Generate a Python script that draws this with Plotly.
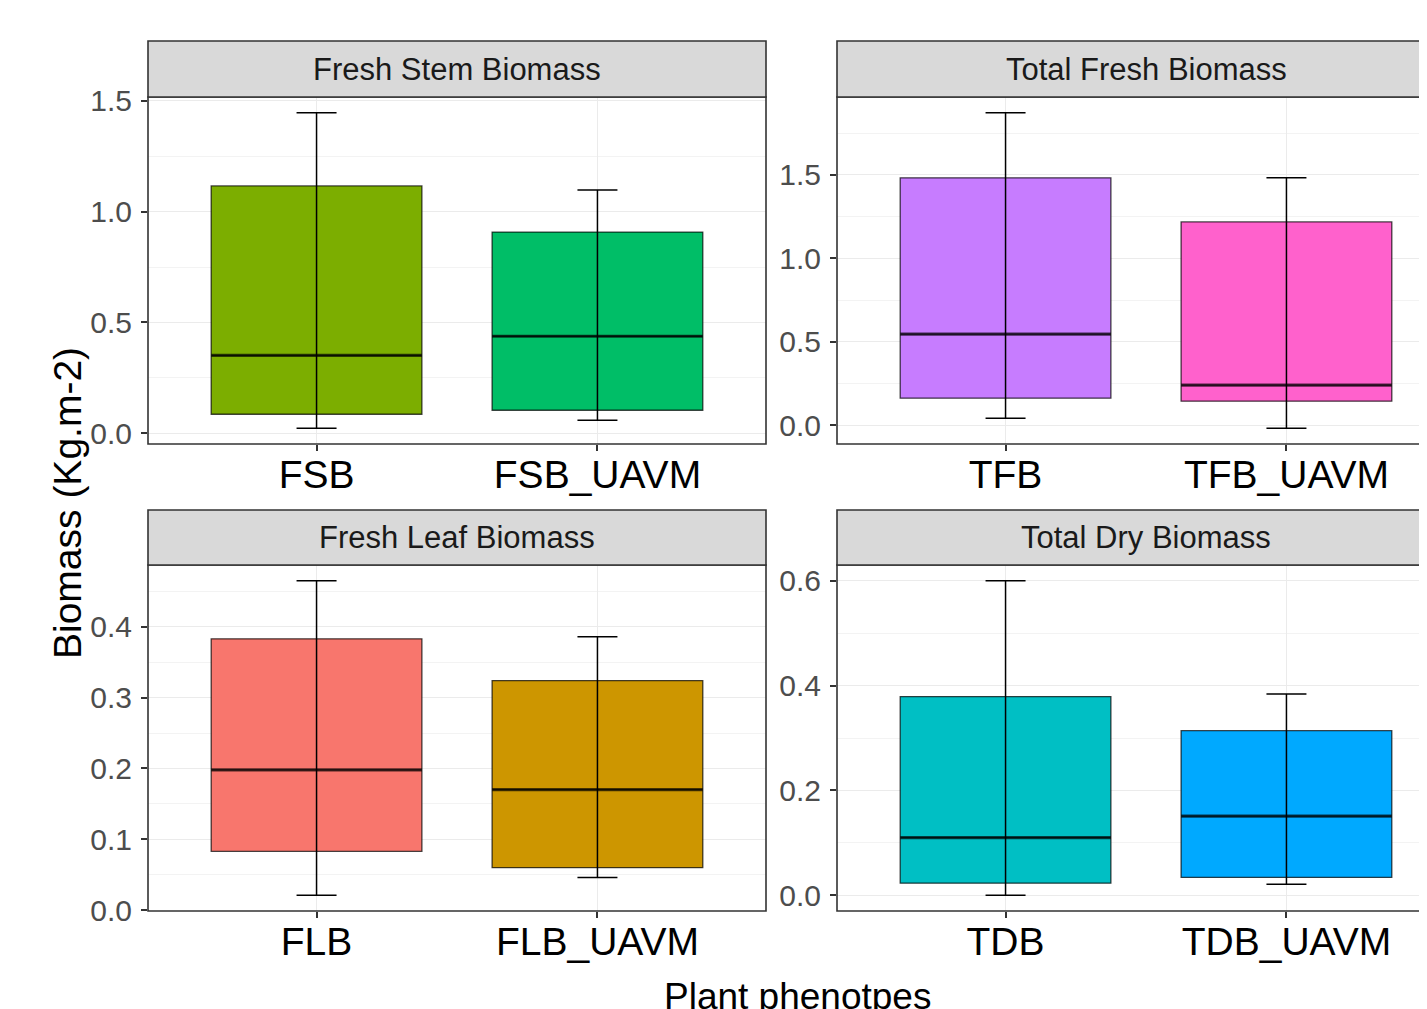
import plotly.graph_objects as go

# ---------------- data ----------------
panel_titles = ["Fresh Stem Biomass", "Total Fresh Biomass", "Fresh Leaf Biomass", "Total Dry Biomass"]
panel_categories = [["FSB", "FSB_UAVM"], ["TFB", "TFB_UAVM"], ["FLB", "FLB_UAVM"], ["TDB", "TDB_UAVM"]]

whisker_low = {"FSB": 0.023, "FSB_UAVM": 0.059, "TFB": 0.042, "TFB_UAVM": -0.018,
               "FLB": 0.021, "FLB_UAVM": 0.046, "TDB": 0.000, "TDB_UAVM": 0.021}
q1_vals = {"FSB": 0.086, "FSB_UAVM": 0.104, "TFB": 0.162, "TFB_UAVM": 0.144,
           "FLB": 0.083, "FLB_UAVM": 0.060, "TDB": 0.023, "TDB_UAVM": 0.034}
median_vals = {"FSB": 0.352, "FSB_UAVM": 0.438, "TFB": 0.546, "TFB_UAVM": 0.240,
               "FLB": 0.198, "FLB_UAVM": 0.170, "TDB": 0.110, "TDB_UAVM": 0.151}
q3_vals = {"FSB": 1.116, "FSB_UAVM": 0.908, "TFB": 1.482, "TFB_UAVM": 1.218,
           "FLB": 0.383, "FLB_UAVM": 0.324, "TDB": 0.379, "TDB_UAVM": 0.314}
whisker_high = {"FSB": 1.446, "FSB_UAVM": 1.098, "TFB": 1.872, "TFB_UAVM": 1.482,
                "FLB": 0.465, "FLB_UAVM": 0.386, "TDB": 0.600, "TDB_UAVM": 0.384}

fill_colors = {"FLB": "#F8766D", "FLB_UAVM": "#CD9600", "FSB": "#7CAE00", "FSB_UAVM": "#00BE67",
               "TDB": "#00BFC4", "TDB_UAVM": "#00A9FF", "TFB": "#C77CFF", "TFB_UAVM": "#FF61CC"}

y_tick_vals = [[0, 0.5, 1.0, 1.5], [0, 0.5, 1.0, 1.5], [0, 0.1, 0.2, 0.3, 0.4], [0, 0.2, 0.4, 0.6]]
y_minor_step = [0.25, 0.25, 0.05, 0.1]

x_title = "Plant phenotpes"
y_title = "Biomass (Kg.m-2)"

# ---------------- layout geometry (pixels in figure space) ----------------
W, H = 1427, 1009
def px_x(p): return p / W
def px_y(p): return 1 - p / H

FONT = "Liberation Sans, Arial, sans-serif"
col_px = [(140, 758), (829, W)]
col_dom = [[px_x(a), px_x(b)] for a, b in col_px]
row_dom = [[px_y(436), px_y(89)], [px_y(903), px_y(557)]]
strip_px = [(33, 89), (502, 557)]
unit_px = (758 - 140) / 2.2
x_ranges = [[0.4, 2.6], [0.4, 0.4 + (W - 829) / unit_px]]

fig = go.Figure()
box_line = "rgba(0,0,0,0.72)"
layout_axes = {}
shapes = []
annotations = []

for i, (title, cats) in enumerate(zip(panel_titles, panel_categories)):
    r, c = divmod(i, 2)
    ax = "" if i == 0 else str(i + 1)
    xa, ya = "x" + ax, "y" + ax
    for j, cat in enumerate(cats):
        pos = j + 1
        fig.add_trace(go.Box(
            x=[pos], q1=[q1_vals[cat]], median=[median_vals[cat]], q3=[q3_vals[cat]],
            lowerfence=[q1_vals[cat]], upperfence=[q3_vals[cat]],
            width=0.75, fillcolor=fill_colors[cat], line=dict(color=box_line, width=1.3),
            boxpoints=False, showlegend=False, hoverinfo="skip", xaxis=xa, yaxis=ya))
        fig.add_trace(go.Scatter(
            x=[pos - 0.375, pos + 0.375], y=[median_vals[cat]] * 2, mode="lines",
            line=dict(color="rgba(0,0,0,0.68)", width=3.2), showlegend=False, hoverinfo="skip",
            xaxis=xa, yaxis=ya))
        fig.add_trace(go.Scatter(
            x=[pos], y=[median_vals[cat]], mode="markers",
            marker=dict(size=1, color="rgba(0,0,0,0)"),
            error_y=dict(type="data", symmetric=False,
                         array=[whisker_high[cat] - median_vals[cat]],
                         arrayminus=[median_vals[cat] - whisker_low[cat]],
                         width=20, thickness=1.5, color="black"),
            showlegend=False, hoverinfo="skip", xaxis=xa, yaxis=ya))

    lo = min(whisker_low[k] for k in cats)
    hi = max(whisker_high[k] for k in cats)
    span = hi - lo
    yr = [lo - 0.05 * span, hi + 0.05 * span]

    layout_axes["xaxis" + ax] = dict(
        domain=col_dom[c], range=x_ranges[c], anchor=ya, automargin=False,
        tickmode="array", tickvals=[1, 2], ticktext=cats,
        showgrid=True, gridcolor="#EBEBEB", gridwidth=1.2, zeroline=False,
        ticks="outside", ticklen=6, tickwidth=1.5, tickcolor="#333333",
        ticklabelstandoff=-10,
        tickfont=dict(family=FONT, size=39, color="#000000"),
        showline=False, fixedrange=True)
    layout_axes["yaxis" + ax] = dict(
        domain=row_dom[r], range=yr, anchor=xa, automargin=False,
        tickmode="array", tickvals=y_tick_vals[i], tickformat=".1f",
        showgrid=True, gridcolor="#EBEBEB", gridwidth=1.2, zeroline=False,
        minor=dict(showgrid=True, gridcolor="#F3F3F3", gridwidth=0.7,
                   dtick=y_minor_step[i], tick0=0, ticks=""),
        ticks="outside", ticklen=6, tickwidth=1.5, tickcolor="#333333",
        ticklabelstandoff=3,
        tickfont=dict(family=FONT, size=30, color="#4D4D4D"),
        showline=False, fixedrange=True)

    x0 = col_dom[c][0]
    x1 = col_dom[c][1] if c == 0 else 1.02
    shapes.append(dict(type="rect", xref="paper", yref="paper", x0=x0, x1=x1,
                       y0=row_dom[r][0], y1=row_dom[r][1],
                       line=dict(color="#333333", width=1.6), fillcolor="rgba(0,0,0,0)", layer="above"))
    st, sb = strip_px[r]
    shapes.append(dict(type="rect", xref="paper", yref="paper", x0=x0, x1=x1,
                       y0=px_y(sb), y1=px_y(st),
                       line=dict(color="#333333", width=1.6), fillcolor="#D9D9D9", layer="above"))
    cx = (col_px[0][0] + col_px[0][1]) / 2 if c == 0 else col_px[1][0] + (758 - 140) / 2
    annotations.append(dict(text=title, xref="paper", yref="paper", x=px_x(cx), y=px_y((st + sb) / 2),
                            xanchor="center", yanchor="middle", showarrow=False,
                            font=dict(family=FONT, size=31, color="#1A1A1A")))

annotations.append(dict(text=y_title, xref="paper", yref="paper", x=px_x(60), y=px_y(495),
                        xanchor="center", yanchor="middle", textangle=-90, showarrow=False,
                        font=dict(family=FONT, size=39, color="#000000")))
annotations.append(dict(text=x_title, xref="paper", yref="paper", x=px_x(790), y=px_y(966),
                        xanchor="center", yanchor="top", showarrow=False,
                        font=dict(family=FONT, size=37, color="#000000")))

fig.update_layout(
    width=W, height=H, margin=dict(l=0, r=0, t=0, b=0, autoexpand=False),
    paper_bgcolor="white", plot_bgcolor="white",
    shapes=shapes, annotations=annotations, **layout_axes)

fig.write_html("out.html", config={"displayModeBar": False})
